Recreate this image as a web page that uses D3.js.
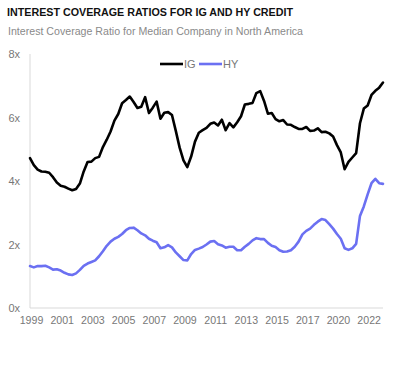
<!DOCTYPE html>
<html><head><meta charset="utf-8">
<script src="https://cdn.jsdelivr.net/npm/d3@7"></script>
<style>body{margin:0;background:#fff;} svg{display:block;}</style>
</head><body>
<svg id="c" width="404" height="369"></svg>
<script>
const title = "INTEREST COVERAGE RATIOS FOR IG AND HY CREDIT";
const subtitle = "Interest Coverage Ratio for Median Company in North America";
const seriesNames = ["IG", "HY"];
const xTickLabels = ["1999","2001","2003","2005","2007","2009","2011","2013","2015","2017","2020","2022"];
const yTicks = [0, 2, 4, 6, 8];
const ig = [4.72,4.50,4.36,4.30,4.29,4.26,4.12,3.95,3.85,3.82,3.76,3.71,3.75,3.92,4.30,4.60,4.61,4.72,4.76,5.07,
5.30,5.56,5.90,6.11,6.45,6.55,6.66,6.49,6.30,6.34,6.64,6.14,6.31,6.50,5.96,6.15,6.17,6.08,5.58,5.05,
4.65,4.44,4.77,5.24,5.52,5.60,5.67,5.80,5.84,5.75,5.93,5.60,5.82,5.69,5.85,6.04,6.41,6.43,6.46,6.77,
6.83,6.52,6.12,6.14,5.95,5.88,5.92,5.78,5.77,5.70,5.64,5.64,5.70,5.58,5.59,5.66,5.54,5.55,5.50,5.40,
5.13,4.90,4.37,4.60,4.74,4.88,5.82,6.28,6.38,6.71,6.84,6.94,7.10];
const hy = [1.32,1.28,1.32,1.32,1.33,1.28,1.21,1.22,1.18,1.11,1.06,1.04,1.09,1.20,1.33,1.40,1.45,1.50,1.63,1.79,
1.96,2.09,2.18,2.24,2.33,2.45,2.52,2.53,2.45,2.35,2.29,2.18,2.12,2.07,1.88,1.91,1.98,1.91,1.75,1.63,
1.51,1.50,1.70,1.83,1.87,1.92,2.00,2.09,2.11,2.01,1.97,1.90,1.93,1.93,1.82,1.82,1.93,2.02,2.13,2.20,
2.17,2.17,2.05,1.96,1.92,1.82,1.77,1.78,1.82,1.93,2.09,2.32,2.43,2.50,2.62,2.72,2.80,2.77,2.64,2.50,
2.33,2.18,1.88,1.83,1.88,2.02,2.90,3.20,3.58,3.93,4.07,3.93,3.91];

const colors = {IG: "#000000", HY: "#6b70f2"};
const svg = d3.select("#c");
const font = "'Liberation Sans', Arial, sans-serif";
const L = 30, R = 383, T = 54, B = 308;

svg.append("text").attr("x", 7).attr("y", 16).attr("font-family", font)
  .attr("font-size", 11.8).attr("font-weight", "bold").attr("fill", "#111")
  .attr("textLength", 286).attr("lengthAdjust", "spacingAndGlyphs").text(title);
svg.append("text").attr("x", 8).attr("y", 35).attr("font-family", font)
  .attr("font-size", 11).attr("fill", "#8a8a8a")
  .attr("textLength", 295).attr("lengthAdjust", "spacingAndGlyphs").text(subtitle);

const x = d3.scaleLinear().domain([0, ig.length - 1]).range([L, R]);
const y = d3.scaleLinear().domain([0, 8]).range([B, T]);

// axis lines
svg.append("line").attr("x1", L).attr("x2", L).attr("y1", T).attr("y2", B).attr("stroke", "#d9d9d9");
svg.append("line").attr("x1", L).attr("x2", R).attr("y1", B).attr("y2", B).attr("stroke", "#d9d9d9");

const yAxis = d3.axisLeft(y).tickValues(yTicks).tickFormat(d => d + "x").tickSize(0).tickPadding(0);
const gy = svg.append("g").attr("transform", `translate(20,0)`).call(yAxis);
gy.select(".domain").remove();
gy.selectAll("text").attr("font-family", font).attr("font-size", 11).attr("fill", "#777").attr("text-anchor", "end").attr("dy", "0.35em");

const tickIdx = xTickLabels.map((_, i) => i * 8);
const xAxis = d3.axisBottom(x).tickValues(tickIdx).tickFormat((d, i) => xTickLabels[i]).tickSize(0).tickPadding(0);
const gx = svg.append("g").attr("transform", `translate(1,${B + 8})`).call(xAxis);
gx.select(".domain").remove();
gx.selectAll("text").attr("font-family", font).attr("font-size", 10.6).attr("fill", "#777").attr("dy", "0.71em");

const line = d3.line().x((d, i) => x(i)).y(d => y(d)).curve(d3.curveLinear);
[["HY", hy], ["IG", ig]].forEach(([name, data]) => {
  svg.append("path").datum(data).attr("d", line).attr("fill", "none")
    .attr("stroke", colors[name]).attr("stroke-width", 2.6).attr("stroke-linejoin", "round").attr("stroke-linecap", "round");
});

// legend
const leg = [{name: "IG", x0: 160}, {name: "HY", x0: 199}];
leg.forEach(l => {
  svg.append("line").attr("x1", l.x0).attr("x2", l.x0 + 23).attr("y1", 64).attr("y2", 64)
    .attr("stroke", colors[l.name]).attr("stroke-width", 2.6);
  svg.append("text").attr("x", l.x0 + 24).attr("y", 68).attr("font-family", font).attr("font-size", 11)
    .attr("fill", "#777").text(l.name);
});
</script>
</body></html>
